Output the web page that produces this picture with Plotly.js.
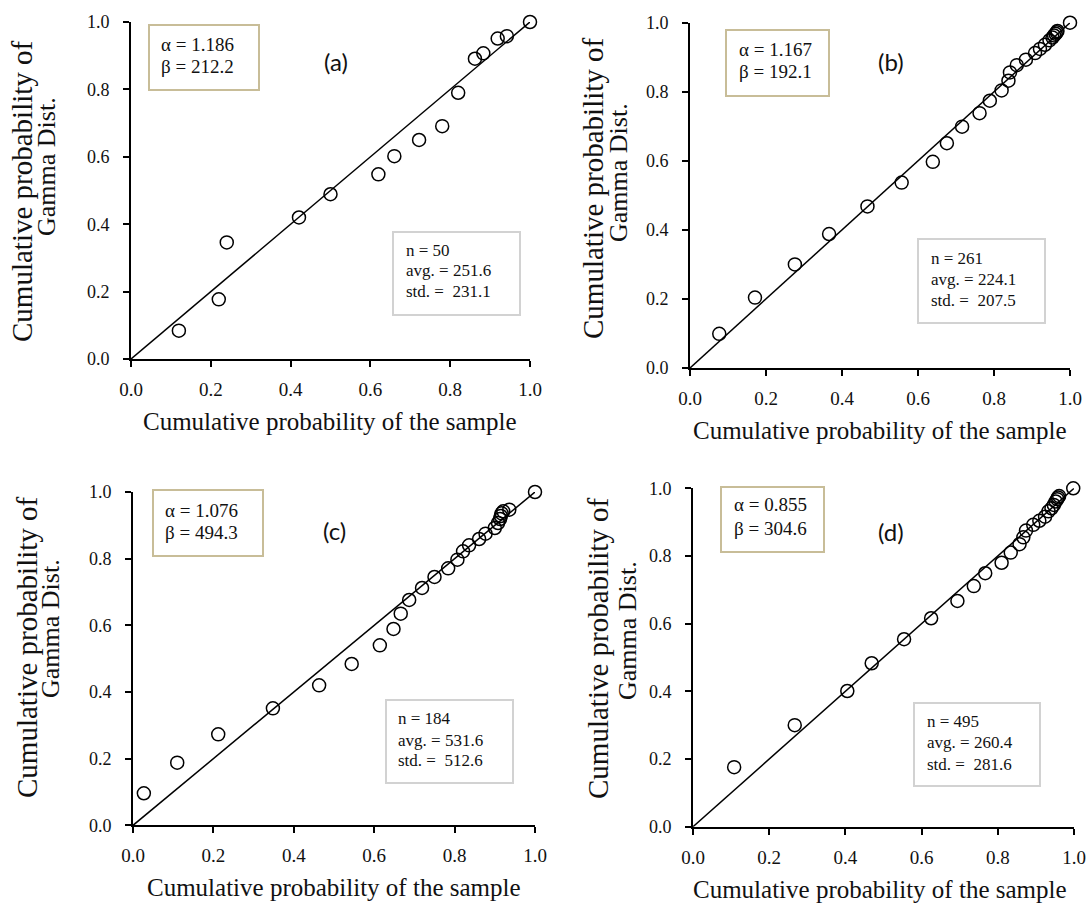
<!DOCTYPE html>
<html>
<head>
<meta charset="utf-8">
<script src="https://cdn.plot.ly/plotly-3.0.1.min.js"></script>
<style>html,body{margin:0;padding:0;background:#fff;}</style>
</head>
<body>
<div id="chart" style="width:1086px;height:908px;"></div>
<script>
// ---------------- DATA ----------------
const panelLabels = ['(a)', '(b)', '(c)', '(d)'];

const aX = [0.120, 0.220, 0.240, 0.421, 0.500, 0.620, 0.660, 0.722, 0.780, 0.820, 0.862, 0.883, 0.919, 0.942, 1.000];
const aY = [0.084, 0.177, 0.346, 0.420, 0.489, 0.548, 0.602, 0.650, 0.691, 0.790, 0.891, 0.907, 0.951, 0.958, 1.000];

const bX = [0.077, 0.171, 0.276, 0.366, 0.467, 0.557, 0.639, 0.676, 0.716, 0.762, 0.789, 0.820, 0.838, 0.842, 0.860, 0.884, 0.908, 0.921, 0.934, 0.946, 0.954, 0.958, 0.962, 0.965, 0.967, 1.000];
const bY = [0.099, 0.204, 0.300, 0.388, 0.468, 0.537, 0.597, 0.651, 0.699, 0.738, 0.774, 0.804, 0.832, 0.856, 0.877, 0.893, 0.912, 0.924, 0.936, 0.949, 0.957, 0.963, 0.968, 0.972, 0.976, 1.000];

const cX = [0.027, 0.110, 0.212, 0.348, 0.463, 0.544, 0.614, 0.648, 0.666, 0.687, 0.719, 0.750, 0.784, 0.807, 0.821, 0.836, 0.861, 0.877, 0.900, 0.908, 0.913, 0.915, 0.917, 0.921, 0.936, 1.000];
const cY = [0.096, 0.188, 0.273, 0.351, 0.420, 0.484, 0.540, 0.589, 0.635, 0.676, 0.712, 0.745, 0.771, 0.797, 0.822, 0.840, 0.859, 0.875, 0.892, 0.907, 0.919, 0.928, 0.936, 0.942, 0.947, 1.000];

const dX = [0.108, 0.267, 0.405, 0.469, 0.554, 0.625, 0.694, 0.737, 0.767, 0.810, 0.834, 0.857, 0.867, 0.874, 0.893, 0.909, 0.924, 0.933, 0.941, 0.947, 0.952, 0.956, 0.958, 0.961, 0.998];
const dY = [0.176, 0.300, 0.401, 0.483, 0.554, 0.616, 0.667, 0.711, 0.749, 0.780, 0.810, 0.835, 0.855, 0.875, 0.892, 0.904, 0.916, 0.932, 0.941, 0.951, 0.961, 0.968, 0.973, 0.977, 1.000];

// 1:1 reference line
const refLineX = [0, 1];
const refLineY = [0, 1];

// fitted parameters and sample statistics
const paramText = [
  ['α = 1.186', 'β = 212.2'],
  ['α = 1.167', 'β = 192.1'],
  ['α = 1.076', 'β = 494.3'],
  ['α = 0.855', 'β = 304.6']
];
const statText = [
  ['n = 50',  'avg. = 251.6', 'std. =  231.1'],
  ['n = 261', 'avg. = 224.1', 'std. =  207.5'],
  ['n = 184', 'avg. = 531.6', 'std. =  512.6'],
  ['n = 495', 'avg. = 260.4', 'std. =  281.6']
];

const xTitle = 'Cumulative probability of the sample';
const yTitleLines = ['Cumulative probability of', 'Gamma Dist.'];
const tickVals = [0, 0.2, 0.4, 0.6, 0.8, 1.0];
const tickText = ['0.0', '0.2', '0.4', '0.6', '0.8', '1.0'];

// ---------------- LAYOUT GEOMETRY (pixels) ----------------
const W = 1086, H = 908;
const px = v => v / W;
const py = v => 1 - v / H;

const SERIF = 'Liberation Serif, Times New Roman, serif';
const SANS = 'Lato, Liberation Sans, sans-serif';

// plot areas [left, right, top, bottom]
const areas = [
  [131, 530, 22, 359],
  [690, 1070, 22.7, 368],
  [133, 535, 492, 825.3],
  [693, 1074, 488.3, 826.7]
];
const paramBox = [[149, 259, 25, 90], [726, 829, 30, 96], [153, 263, 490, 556], [721, 824, 487, 552]];
const paramTxt = [[160, 44, 66], [738, 49, 71], [164, 510, 532], [733, 504, 528]];
const statBox = [[393, 520, 232, 315], [918, 1045, 239, 323], [386, 513, 700, 783], [914, 1040, 703, 786]];
const statTxt = [[405, 250, 271, 291], [930, 258, 280, 300], [397, 718, 740, 760], [926, 721, 742, 764]];
const labelPos = [[336, 62], [891, 62], [334, 530], [891, 531]];
const yTitlePos = [[[22, 191], [46, 167]], [[593, 188], [619, 173]], [[27, 647], [50, 629]], [[598, 648], [627, 631]]];
const xTitlePos = [[330, 421], [880, 430], [334, 887], [880, 889]];

const seriesX = [aX, bX, cX, dX];
const seriesY = [aY, bY, cY, dY];

const traces = [];
const layout = {
  width: W, height: H, autosize: false,
  margin: {l: 0, r: 0, t: 0, b: 0, pad: 0},
  paper_bgcolor: '#fff', plot_bgcolor: 'rgba(0,0,0,0)',
  showlegend: false,
  annotations: [], shapes: []
};

for (let i = 0; i < 4; i++) {
  const sfx = i === 0 ? '' : String(i + 1);
  const xa = 'x' + sfx, ya = 'y' + sfx;
  const [l, r, t, b] = areas[i];

  traces.push({
    x: refLineX, y: refLineY, xaxis: xa, yaxis: ya, type: 'scatter', mode: 'lines',
    line: {color: '#000', width: 1.5}, hoverinfo: 'skip', cliponaxis: false
  });
  traces.push({
    x: seriesX[i], y: seriesY[i], xaxis: xa, yaxis: ya, type: 'scatter', mode: 'markers',
    marker: {symbol: 'circle', size: 13, color: 'rgba(0,0,0,0)', line: {color: '#000', width: 1.5}},
    cliponaxis: false
  });

  const common = {
    range: [0, 1], autorange: false, showgrid: false, zeroline: false,
    showline: true, linecolor: '#000', linewidth: 2,
    ticks: 'outside', ticklen: 6, tickwidth: 2, tickcolor: '#000',
    tickvals: tickVals, ticktext: tickText, fixedrange: true
  };
  layout['xaxis' + sfx] = Object.assign({}, common, {
    domain: [px(l), px(r)], anchor: ya,
    tickfont: {family: SERIF, size: 19, color: '#111'}, ticklabelstandoff: 6
  });
  layout['yaxis' + sfx] = Object.assign({}, common, {
    domain: [py(b), py(t)], anchor: xa,
    tickfont: {family: SERIF, size: 18, color: '#111'}, ticklabelstandoff: 10
  });

  // parameter box
  const pb = paramBox[i];
  layout.shapes.push({type: 'rect', xref: 'paper', yref: 'paper',
    x0: px(pb[0]), x1: px(pb[1]), y0: py(pb[3]), y1: py(pb[2]),
    line: {color: '#c8bd98', width: 2}, fillcolor: 'rgba(255,255,255,0)'});
  const pt = paramTxt[i];
  paramText[i].forEach((txt, k) => {
    layout.annotations.push({xref: 'paper', yref: 'paper', x: px(pt[0]), y: py(pt[k + 1]),
      xanchor: 'left', yanchor: 'middle', showarrow: false, text: txt,
      font: {family: SERIF, size: 19, color: '#111'}, borderpad: 0});
  });

  // statistics box
  const sb = statBox[i];
  layout.shapes.push({type: 'rect', xref: 'paper', yref: 'paper',
    x0: px(sb[0]), x1: px(sb[1]), y0: py(sb[3]), y1: py(sb[2]),
    line: {color: '#d2d2d2', width: 2}, fillcolor: 'rgba(255,255,255,0)'});
  const st = statTxt[i];
  statText[i].forEach((txt, k) => {
    layout.annotations.push({xref: 'paper', yref: 'paper', x: px(st[0]), y: py(st[k + 1]),
      xanchor: 'left', yanchor: 'middle', showarrow: false, text: txt.replace(/  /g, ' &nbsp;'),
      font: {family: SERIF, size: 17, color: '#111'}, borderpad: 0});
  });

  // panel label
  layout.annotations.push({xref: 'paper', yref: 'paper', x: px(labelPos[i][0]), y: py(labelPos[i][1]),
    xanchor: 'center', yanchor: 'middle', showarrow: false, text: panelLabels[i],
    font: {family: SANS, size: 24, color: '#111'}});

  // x title
  layout.annotations.push({xref: 'paper', yref: 'paper', x: px(xTitlePos[i][0]), y: py(xTitlePos[i][1]),
    xanchor: 'center', yanchor: 'middle', showarrow: false, text: xTitle,
    font: {family: SERIF, size: 25, color: '#111'}});

  // y title (two lines)
  yTitleLines.forEach((txt, k) => {
    layout.annotations.push({xref: 'paper', yref: 'paper',
      x: px(yTitlePos[i][k][0]), y: py(yTitlePos[i][k][1]),
      xanchor: 'center', yanchor: 'middle', showarrow: false, textangle: -90, text: txt,
      font: {family: SERIF, size: k === 0 ? 29 : 26, color: '#111'}});
  });
}

Plotly.newPlot('chart', traces, layout, {staticPlot: true, displayModeBar: false});
</script>
</body>
</html>
